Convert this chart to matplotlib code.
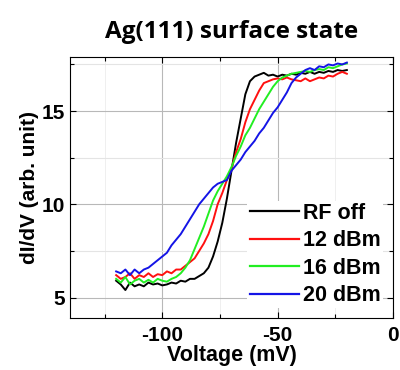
import matplotlib
matplotlib.use("Agg")
import matplotlib.pyplot as plt
from matplotlib.ticker import MultipleLocator

voltage = list(range(-120, -19, 2))

rf_off = [5.9, 5.7, 5.4, 5.8, 5.6, 5.7, 5.6, 5.8, 5.7, 5.75, 5.65, 5.7, 5.8, 5.75, 5.9, 5.85,
          6.0, 6.0, 6.15, 6.3, 6.6, 7.2, 8.0, 9.0, 10.3, 11.8, 13.3, 14.6, 15.9, 16.6, 16.85,
          16.95, 17.05, 16.9, 16.95, 16.85, 16.95, 16.9, 17.0, 16.95, 17.05, 17.0, 17.1, 17.0,
          17.1, 17.05, 17.15, 17.1, 17.2, 17.15, 17.2]
dbm12 = [6.2, 6.0, 6.1, 6.3, 6.0, 6.2, 6.1, 6.3, 6.1, 6.25, 6.2, 6.4, 6.3, 6.5, 6.5, 6.7,
         6.9, 7.1, 7.5, 7.9, 8.4, 9.1, 10.0, 10.6, 11.3, 11.9, 12.8, 13.5, 14.4, 15.1, 15.6,
         16.1, 16.5, 16.6, 16.7, 16.75, 16.7, 16.8, 16.7, 16.65, 16.6, 16.75, 16.6, 16.7,
         16.8, 16.75, 16.9, 16.85, 17.0, 17.1, 17.0]
dbm16 = [6.0, 5.8, 6.1, 5.7, 5.9, 6.0, 5.8, 5.95, 5.8, 6.0, 5.9, 5.85, 6.0, 6.1, 6.3, 6.6,
         7.0, 7.6, 8.2, 8.8, 9.5, 10.2, 10.7, 11.1, 11.5, 12.0, 12.6, 13.1, 13.7, 14.1, 14.6,
         15.1, 15.5, 15.9, 16.3, 16.6, 16.8, 16.9, 17.0, 17.05, 17.1, 17.15, 17.1, 17.2,
         17.25, 17.2, 17.35, 17.3, 17.4, 17.5, 17.55]
dbm20 = [6.4, 6.3, 6.5, 6.2, 6.5, 6.3, 6.5, 6.6, 6.8, 7.0, 7.2, 7.4, 7.8, 8.1, 8.4, 8.8,
         9.2, 9.6, 10.0, 10.3, 10.6, 10.9, 11.1, 11.2, 11.3, 11.8, 12.1, 12.4, 12.8, 13.1, 13.4,
         13.8, 14.1, 14.5, 14.9, 15.2, 15.6, 16.0, 16.5, 16.8, 17.0, 17.2, 17.3, 17.2,
         17.4, 17.35, 17.5, 17.45, 17.55, 17.5, 17.6]

series = [("RF off", rf_off, "#000000"), ("12 dBm", dbm12, "#ff1010"),
          ("16 dBm", dbm16, "#22ee22"), ("20 dBm", dbm20, "#1414e6")]

plt.rcParams['axes.unicode_minus'] = False
plt.rcParams['font.family'] = ['Liberation Sans', 'DejaVu Sans']

fig = plt.figure(figsize=(4.0, 3.7), dpi=100)
ax = fig.add_axes([0.175, 0.1405, 0.8075, 0.7055])

for label, vals, col in series:
    ax.plot(voltage, vals, color=col, lw=1.4, label=label)

ax.set_xlim(-140, 0)
ax.set_ylim(3.9, 17.9)
ax.xaxis.set_major_locator(MultipleLocator(50))
ax.xaxis.set_minor_locator(MultipleLocator(25))
ax.yaxis.set_major_locator(MultipleLocator(5))
ax.yaxis.set_minor_locator(MultipleLocator(2.5))
ax.grid(True, which='major', color='#b8b8b8', lw=0.8)
ax.grid(True, which='minor', axis='y', color='#e4e4e4', lw=0.8)
ax.grid(True, which='minor', axis='x', color='#ececec', lw=0.6)
ax.set_axisbelow(True)
ax.tick_params(which='both', direction='in', top=True, right=True, length=4, width=0.8)
ax.tick_params(which='minor', length=3)
for lab in ax.get_xticklabels() + ax.get_yticklabels():
    lab.set_fontweight('bold')
    lab.set_fontsize(15)
ax.tick_params(axis='x', pad=6)

ax.set_xlabel("Voltage (mV)", fontsize=15.5, fontweight='bold', labelpad=0)
ax.set_ylabel("dI/dV (arb. unit)", fontsize=15, fontweight='bold', labelpad=2)
ax.set_title("Ag(111) surface state", fontsize=17.5, fontweight='bold',
             family=['Open Sans', 'DejaVu Sans'], pad=14)

leg = ax.legend(loc='lower right', frameon=True, framealpha=1, edgecolor='none',
                prop={'weight': 'bold', 'size': 15.5}, handlelength=2.3,
                handletextpad=0.2, labelspacing=0.3, borderpad=0.1,
                borderaxespad=0.45, fancybox=False)
for line in leg.get_lines():
    line.set_linewidth(1.6)

fig.savefig("out.png", dpi=100)
